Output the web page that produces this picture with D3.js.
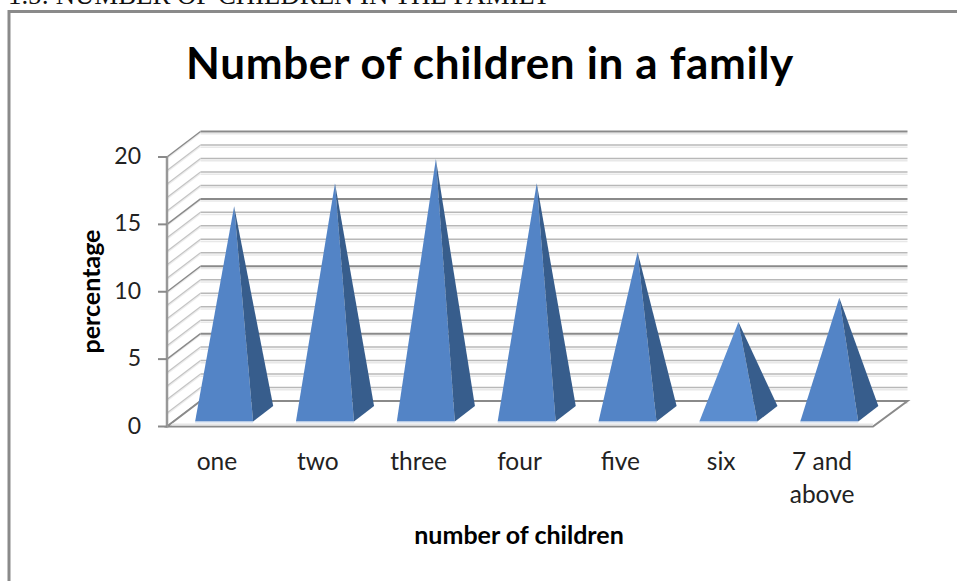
<!DOCTYPE html>
<html>
<head>
<meta charset="utf-8">
<style>
html, body { margin: 0; padding: 0; background: #fff; overflow: hidden; }
svg { display: block; }
</style>
<script src="https://cdn.jsdelivr.net/npm/d3@7/dist/d3.min.js"></script>
</head>
<body>
<script>
const categories = [["one"], ["two"], ["three"], ["four"], ["five"], ["six"], ["7 and", "above"]];
const values = [15.4, 17.1, 18.9, 17.1, 12.0, 6.8, 8.6];
const yTicks = [0, 5, 10, 15, 20];
const gridSteps = d3.range(0, 21);

const svg = d3.select("body").append("svg").attr("width", 957).attr("height", 581);

// Oblique projection: category band, value, and depth into the chart box
const x = d3.scaleBand().domain(d3.range(categories.length)).range([167, 873]).paddingInner(0).paddingOuter(0);
const y = d3.scaleLinear().domain([0, 20]).range([426.5, 157]);
const depthX = d3.scaleLinear().domain([0, 1]).range([0, 33.5]);
const depthY = d3.scaleLinear().domain([0, 1]).range([0, -25.5]);
const project = (px, v, d) => [px + depthX(d), y(v) + depthY(d)];
const poly = pts => pts.map(p => p.join(",")).join(" ");

// Chart frame and the caption line above it
svg.append("text").attr("x", 8).attr("y", 4)
  .attr("font-family", "Liberation Serif").attr("font-size", 26.8).attr("fill", "#111")
  .text("1.5: NUMBER OF CHILDREN IN THE FAMILY");
svg.append("path").attr("d", "M9,590V11.5H957").attr("fill", "none").attr("stroke", "#8a8a8a").attr("stroke-width", 3);

// Gridlines: side wall is lighter than the back wall, every fifth step is darker
const grid = svg.append("g").attr("fill", "none");
gridSteps.forEach(v => {
  const major = v % 5 === 0;
  const front = project(167, v, 0), back = project(167, v, 1), right = project(873, v, 1);
  const end = [right[0] + 1, right[1]];
  grid.append("line").attr("x1", back[0]).attr("y1", back[1] + 2.2).attr("x2", end[0]).attr("y2", end[1] + 2.2)
    .attr("stroke", "#e8e8e8").attr("stroke-width", 1.5);
  grid.append("line").attr("x1", back[0]).attr("y1", back[1]).attr("x2", end[0]).attr("y2", end[1])
    .attr("stroke", major ? "#8a8a8a" : "#b8b8b8").attr("stroke-width", major ? 2 : 1.5);
  grid.append("line").attr("x1", front[0]).attr("y1", front[1] + 1.5).attr("x2", back[0]).attr("y2", back[1] + 1.5)
    .attr("stroke", "#ececec").attr("stroke-width", 1.2);
  grid.append("line").attr("x1", front[0]).attr("y1", front[1]).attr("x2", back[0]).attr("y2", back[1])
    .attr("stroke", major ? "#8a8a8a" : "#c4c4c4").attr("stroke-width", major ? 1.5 : 1.2);
});

// Floor: white plane with grey edges
svg.append("polygon")
  .attr("points", poly([project(167, 0, 0), project(167, 0, 1), project(873, 0, 1), project(873, 0, 0)]))
  .attr("fill", "#fff");
svg.append("polyline")
  .attr("points", poly([project(167, 0, 1), [project(873, 0, 1)[0] + 1, project(873, 0, 1)[1]], project(873, 0, 0), project(167, 0, 0), project(167, 0, 1)]))
  .attr("fill", "none").attr("stroke", "#8a8a8a").attr("stroke-width", 2);
svg.append("line")
  .attr("x1", 172).attr("x2", 873).attr("y1", y(0) - 2).attr("y2", y(0) - 2)
  .attr("stroke", "#e6e6e6").attr("stroke-width", 2);

// Value axis with outward ticks
svg.append("line").attr("x1", 167).attr("x2", 167).attr("y1", y(20) - 1).attr("y2", y(0) + 1)
  .attr("stroke", "#989898").attr("stroke-width", 2.5);
const yAxis = svg.append("g").attr("font-family", "Lato").attr("font-weight", 400).attr("font-size", 23).attr("fill", "#222");
yTicks.forEach(t => {
  svg.append("line").attr("x1", 158).attr("x2", 167).attr("y1", y(t)).attr("y2", y(t))
    .attr("stroke", "#8a8a8a").attr("stroke-width", 2);
  yAxis.append("text").attr("x", 141).attr("y", y(t) + 7).attr("text-anchor", "end").text(t);
});

// Pyramids: base sits 20% into the depth and spans 60% of it
const baseInset = 21.4, baseWidth = 58;
const bars = svg.append("g");
values.forEach((v, i) => {
  const left = x(i) + baseInset, right = left + baseWidth;
  const fl = project(left, 0, 0.2), fr = project(right, 0, 0.2), br = project(right, 0, 0.8);
  const apex = project(left + baseWidth / 2, v, 0.5);
  bars.append("polygon").attr("points", poly([fl, fr, apex])).attr("fill", i === 5 ? "#5b8dcf" : "#5384c6");
  bars.append("polygon").attr("points", poly([fr, br, apex])).attr("fill", "#375d8c");
  bars.append("line").attr("x1", fl[0]).attr("x2", fr[0]).attr("y1", fl[1] + 1).attr("y2", fr[1] + 1)
    .attr("stroke", "#dfe8f4").attr("stroke-width", 1.5);
});

// Category labels, wrapped across two lines where needed
const labels = svg.append("g").attr("font-family", "Lato").attr("font-weight", 400).attr("font-size", 24.5).attr("fill", "#222").attr("text-anchor", "middle");
categories.forEach((lines, i) => {
  lines.forEach((s, k) => {
    labels.append("text").attr("x", x(i) + x.bandwidth() / 2 - 0.5).attr("y", 470 + k * 33).text(s);
  });
});

// Titles
svg.append("text").attr("x", 490).attr("y", 79).attr("text-anchor", "middle")
  .attr("font-family", "Lato").attr("font-weight", 700).attr("font-size", 44).attr("letter-spacing", 0.66).attr("fill", "#000")
  .text("Number of children in a family");
svg.append("text").attr("x", 519).attr("y", 544).attr("text-anchor", "middle")
  .attr("font-family", "Lato").attr("font-weight", 700).attr("font-size", 25).attr("fill", "#000")
  .text("number of children");
svg.append("text").attr("transform", "translate(100,291.5) rotate(-90)").attr("text-anchor", "middle")
  .attr("font-family", "Lato").attr("font-weight", 700).attr("font-size", 25).attr("fill", "#000")
  .text("percentage");
</script>
</body>
</html>
